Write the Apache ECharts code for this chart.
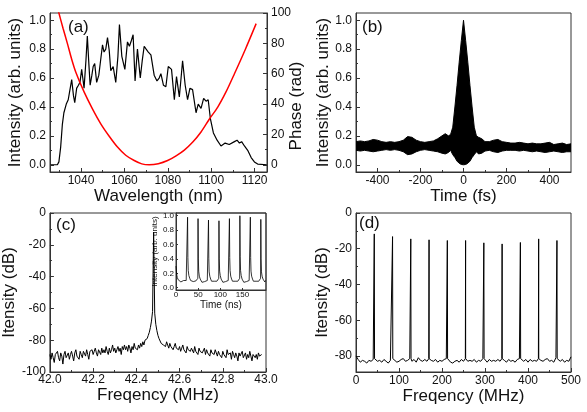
<!DOCTYPE html>
<html><head><meta charset="utf-8">
<script src="https://cdn.jsdelivr.net/npm/echarts@6/dist/echarts.min.js"></script>
<style>html,body{margin:0;padding:0;background:#fff}#c{width:587px;height:412px}</style>
</head><body><div id="c"></div>
<script>
// ---------- (a) spectrum + phase ----------
const specWl = [1026,1029.1,1029.8,1030.6,1031.4,1032.1,1033.2,1034.1,1034.9,1035.7,
1036.5,1037.1,1038.0,1038.8,1039.5,1040.3,1040.8,1041.4,1042.3,1042.9,
1043.6,1044.2,1045.0,1045.6,1046.3,1047.2,1048.2,1049.0,1049.9,1050.6,
1051.4,1052.2,1053.0,1053.7,1054.8,1056.0,1057.0,1057.7,1058.3,1058.8,
1060.2,1061.4,1062.3,1063.2,1064.0,1064.9,1066.0,1067.3,1068.2,1069.1,
1070.0,1071.0,1072.2,1073.7,1075.0,1076.0,1076.8,1078.0,1079.1,1080.2,
1081.7,1083.0,1084.0,1085.3,1086.1,1086.8,1088.0,1089.1,1090.2,1091.4,
1093.0,1094.0,1095.3,1096.5,1097.6,1098.6,1099.6,1101.0,1102.7,1104.5,
1105.3,1106.4,1108.3,1110.7,1111.9,1113.0,1114.0,1115.3,1116.8,1118.4,
1119.9,1121.4,1125.6];
const specI = [0,0,0.02,0.12,0.28,0.36,0.42,0.45,0.52,0.59,
0.48,0.43,0.53,0.55,0.57,0.66,0.6,0.53,0.73,0.89,
0.7,0.55,0.62,0.68,0.70,0.57,0.62,0.72,0.83,0.78,
0.80,0.88,0.79,0.65,0.68,0.57,0.75,0.97,0.85,0.75,
0.66,0.85,0.82,0.86,0.90,0.58,0.80,0.60,0.72,0.82,
0.80,0.78,0.76,0.62,0.58,0.60,0.63,0.55,0.54,0.68,
0.66,0.45,0.61,0.47,0.60,0.72,0.55,0.45,0.53,0.52,
0.36,0.42,0.39,0.46,0.44,0.45,0.32,0.22,0.17,0.13,
0.12,0.15,0.14,0.16,0.17,0.15,0.16,0.13,0.10,0.05,
0.02,0.005,0];
const phaseWl = [1029.0,1029.8,1031.7,1033.7,1035.6,1037.6,1041.4,1045.2,1049.1,1052.9,1056.8,1060.6,1064.5,1068.0,1071.4,1075.6,1079.9,1083.8,1087.6,1091.5,1095.3,1099.1,1103.0,1106.8,1110.7,1115.7,1120.7];
const phaseV  = [104.5,100,90,80,70,61,48,37,27,19,11.7,6.3,2.8,0.6,0,0.7,2.8,5.9,9.7,15,21.6,30,38,48,60,76,93];

// ---------- (b) autocorrelation envelopes ----------
const tB = [-500,-480,-460,-440,-420,-400,-380,-360,-340,-320,-300,-280,-260,-240,-220,-200,-180,-160,-140,-120,-100,
-85,-70,-60,-50,-40,-30,-20,-10,0,10,20,30,40,50,60,70,85,
100,120,140,160,180,200,220,240,260,280,300,320,340,360,380,400,420,440,460,480,500];
const upperB = [0.16,0.165,0.16,0.165,0.175,0.17,0.16,0.155,0.16,0.155,0.16,0.17,0.195,0.19,0.17,0.16,0.155,0.16,0.165,0.18,0.2,
0.215,0.2,0.21,0.26,0.40,0.55,0.71,0.86,1.0,0.86,0.71,0.55,0.40,0.26,0.2,0.19,0.18,
0.16,0.16,0.17,0.175,0.16,0.155,0.15,0.15,0.155,0.15,0.145,0.15,0.145,0.145,0.15,0.155,0.14,0.145,0.15,0.14,0.145];
const lowerB = [0.10,0.095,0.1,0.095,0.09,0.095,0.1,0.105,0.1,0.105,0.1,0.09,0.07,0.075,0.09,0.1,0.105,0.1,0.095,0.09,0.08,
0.075,0.085,0.1,0.07,0.05,0.025,0.01,0.002,0,0.002,0.01,0.025,0.05,0.07,0.09,0.075,0.08,
0.095,0.1,0.09,0.085,0.095,0.1,0.1,0.1,0.095,0.1,0.095,0.09,0.095,0.09,0.085,0.09,0.095,0.09,0.085,0.09,0.09];

// ---------- (c) narrow RF spectrum (42.000 .. 42.980 MHz, 0.005 MHz sampling) ----------
const cStart = 42.0, cStep = 0.005;
const cDb = [-89,-92,-88,-91,-94,-89,-90,-87,-91,-93,
-88,-90,-95,-89,-87,-91,-90,-88,-92,-89,
-87,-90,-93,-88,-86,-90,-89,-92,-87,-89,
-91,-87,-88,-90,-86,-89,-92,-87,-88,-86,
-89,-87,-85,-88,-90,-86,-87,-89,-85,-88,
-86,-88,-84,-87,-89,-85,-88,-86,-83,-87,
-85,-88,-86,-84,-87,-85,-89,-84,-86,-83,
-86,-84,-87,-83,-85,-88,-84,-86,-82,-85,
-84,-86,-83,-85,-82,-84,-81,-83,-80,-81,
-79,-77,-75,-72,-68,-62,-12,-63,-70,-74,
-77,-79,-80,-82,-81,-83,-82,-84,-81,-83,
-85,-82,-84,-83,-86,-84,-82,-85,-84,-86,
-84,-87,-85,-83,-86,-85,-88,-84,-86,-85,
-87,-85,-86,-88,-84,-87,-86,-89,-85,-87,
-86,-88,-87,-85,-89,-86,-88,-87,-90,-86,
-88,-87,-89,-86,-88,-90,-87,-89,-88,-91,
-87,-89,-88,-91,-86,-89,-90,-88,-92,-87,
-89,-91,-88,-90,-93,-88,-90,-89,-87,-91,
-90,-88,-92,-89,-91,-87,-90,-93,-89,-88,
-91,-89,-92,-88,-90,-91,-89];

// inset: pulse train (time ns, intensity)
const insetT = [0,1,2,3,5,7,9,11,13,15,17,19,21,23,24.5,25.5,
26.1,26.8,27.6,29,31,33,35,37,39,41,43,45,47,48.5,49.2,
49.7,50.4,51.2,52.6,54.6,56.6,58.6,60.6,62.6,64.6,66.6,68.6,70.6,72.2,72.8,
73.3,74,74.8,76.2,78.2,80.2,82.2,84.2,86.2,88.2,90.2,92.2,94.2,95.8,96.4,
96.9,97.6,98.4,99.8,101.8,103.8,105.8,107.8,109.8,111.8,113.8,115.8,117.8,119.4,120,
120.5,121.2,122,123.4,125.4,127.4,129.4,131.4,133.4,135.4,137.4,139.4,141.4,143,143.6,
144.1,144.8,145.6,147,149,151,153,155,157,159,161,163,165,166.6,167.2,
167.7,168.4,169.2,170.6,172.6,174.6,176.6,178.6,180.6,182.6,184.6,186.6,188.6,190.2,190.8,
191.3,192,192.8,194.2,196.2,198.2,200.2,202,203];
const insetV = [0.3,0.22,0.17,0.14,0.11,0.09,0.1,0.08,0.09,0.085,0.1,0.09,0.095,0.1,0.09,0.12,
0.98,0.42,0.24,0.17,0.13,0.1,0.08,0.1,0.085,0.09,0.1,0.095,0.09,0.1,0.13,
0.96,0.4,0.23,0.16,0.12,0.1,0.075,0.09,0.1,0.085,0.095,0.09,0.1,0.09,0.12,
0.94,0.41,0.22,0.16,0.12,0.09,0.08,0.1,0.09,0.085,0.1,0.09,0.095,0.1,0.13,
0.93,0.4,0.23,0.17,0.12,0.1,0.075,0.09,0.1,0.085,0.095,0.09,0.1,0.09,0.12,
0.96,0.42,0.24,0.16,0.12,0.09,0.08,0.1,0.09,0.085,0.1,0.09,0.095,0.1,0.13,
1.0,0.43,0.24,0.17,0.12,0.1,0.075,0.09,0.1,0.085,0.095,0.09,0.1,0.09,0.12,
0.98,0.42,0.23,0.16,0.12,0.09,0.08,0.1,0.09,0.085,0.1,0.09,0.095,0.1,0.13,
0.95,0.4,0.22,0.16,0.12,0.1,0.08,0.1,0.09];

// ---------- (d) wide RF spectrum ----------
const dStart = 0, dStep = 5;
const dBase = [-80,-82,-83.5,-82.5,-83,-84,-82.5,-83,-82,-81.5,-83,-82.5,-83.5,-82,-83,-84,-82.5,-81.5,-82,-83.5,
-83,-82,-81.5,-83,-82.5,-81.5,-83,-82,-83.5,-81,-82.5,-83,-82,-83,-81.5,-82.5,-83,-82,-83.5,-82.5,
-83,-82,-81.5,-82.5,-83.5,-84,-83,-82.5,-83.5,-82,-83,-81.5,-83,-82.5,-83,-82,-83.5,-82.5,-83,-81.5,
-82.5,-83.5,-82,-83,-82.5,-83,-82,-83,-81.5,-82.5,-83.5,-82,-83,-82.5,-83.5,-82,-81.5,-82.5,-83,-82,
-83.5,-82,-83,-82.5,-83,-81.5,-82.5,-83,-82,-81.5,-83,-82.5,-83.5,-81,-82.5,-83,-82,-83.5,-82.5,-83,-80.5];
const peakF  = [42.5,85.0,127.4,169.9,212.4,254.9,297.3,339.8,382.3,424.8,467.3];
const peakDb = [-11.7,-13.2,-14.5,-15.0,-15.4,-15.4,-16.7,-17.3,-16.5,-14.5,-15.4];
const peakFoot = -81.5;

// ---------- build ----------
const FONT = '"Liberation Sans", Arial, sans-serif';
const INK = '#111';
const LINE = '#333';

function axis(o){
  const major = !o.minor;
  return {
    type:'value', gridIndex:o.grid, min:o.min, max:o.max, position:o.pos,
    axisLine:{show:major, onZero:false, lineStyle:{color:LINE,width:1}},
    axisTick:{show:true, inside:true, length: major ? (o.tl || 4) : (o.tl || 2), customValues:o.ticks, lineStyle:{color:LINE,width:1}},
    axisLabel:{show: major && !!o.labels, customValues:o.labels, formatter:o.fmt, margin:(o.margin!=null?o.margin:3),
      fontSize:o.fs||12, fontFamily:FONT, color:INK},
    splitLine:{show:false}, minorTick:{show:false},
    name:o.name||'', nameLocation:'middle', nameGap:o.gap||20,
    nameTextStyle:{fontSize:o.nfs||17, fontFamily:FONT, color:INK}
  };
}
const f1 = v => v.toFixed(1);
const f0 = v => String(Math.round(v));

const xAxes = [
  axis({grid:0,min:1025.7,max:1125.7,pos:'bottom',ticks:[1040,1060,1080,1100,1120],labels:[1040,1060,1080,1100,1120],fmt:f0,name:'Wavelength (nm)',gap:15}),
  axis({grid:0,min:1025.7,max:1125.7,pos:'bottom',minor:true,ticks:[1030,1050,1070,1090,1110]}),
  axis({grid:1,min:-500,max:500,pos:'bottom',ticks:[-400,-200,0,200,400],labels:[-400,-200,0,200,400],fmt:f0,name:'Time (fs)',gap:15}),
  axis({grid:1,min:-500,max:500,pos:'bottom',minor:true,ticks:[-300,-100,100,300]}),
  axis({grid:2,min:42,max:43,pos:'bottom',ticks:[42,42.2,42.4,42.6,42.8,43],labels:[42,42.2,42.4,42.6,42.8,43],fmt:f1,name:'Freqency (MHz)',gap:15,margin:2}),
  axis({grid:2,min:42,max:43,pos:'bottom',minor:true,ticks:[42.1,42.3,42.5,42.7,42.9]}),
  axis({grid:3,min:0,max:500,pos:'bottom',ticks:[0,100,200,300,400,500],labels:[0,100,200,300,400,500],fmt:f0,name:'Freqency (MHz)',gap:15}),
  axis({grid:3,min:0,max:500,pos:'bottom',minor:true,ticks:[50,150,250,350,450]}),
  axis({grid:4,min:0,max:203,pos:'bottom',ticks:[0,50,100,150],labels:[0,50,100,150],fmt:f0,fs:8,margin:1,tl:2,name:'Time (ns)',nfs:10,gap:9})
];
const yAxes = [
  axis({grid:0,min:-0.05,max:1.05,pos:'left',ticks:[0,0.2,0.4,0.6,0.8,1.0],labels:[0,0.2,0.4,0.6,0.8,1.0],fmt:f1,name:'Intensity (arb. units)',gap:26,margin:4}),
  axis({grid:0,min:-0.05,max:1.05,pos:'left',minor:true,ticks:[0.1,0.3,0.5,0.7,0.9]}),
  axis({grid:0,min:-4.76,max:100,pos:'right',ticks:[0,20,40,60,80,100],labels:[0,20,40,60,80,100],fmt:f0,margin:4}),
  axis({grid:0,min:-4.76,max:100,pos:'right',minor:true,ticks:[10,30,50,70,90]}),
  axis({grid:1,min:-0.05,max:1.05,pos:'left',ticks:[0,0.2,0.4,0.6,0.8,1.0],labels:[0,0.2,0.4,0.6,0.8,1.0],fmt:f1,name:'Intensity (arb. units)',gap:20,margin:4}),
  axis({grid:1,min:-0.05,max:1.05,pos:'left',minor:true,ticks:[0.1,0.3,0.5,0.7,0.9]}),
  axis({grid:2,min:-100,max:0,pos:'left',ticks:[-100,-80,-60,-40,-20,0],labels:[-100,-80,-60,-40,-20,0],fmt:f0,name:'Itensity (dB)',gap:26,margin:4}),
  axis({grid:2,min:-100,max:0,pos:'left',minor:true,ticks:[-90,-70,-50,-30,-10]}),
  axis({grid:3,min:-89,max:0,pos:'left',ticks:[-80,-60,-40,-20,0],labels:[-80,-60,-40,-20,0],fmt:f0,name:'Itensity (dB)',gap:23,margin:4}),
  axis({grid:3,min:-89,max:0,pos:'left',minor:true,ticks:[-70,-50,-30,-10]}),
  axis({grid:4,min:-0.032,max:1.038,pos:'left',ticks:[0,0.2,0.4,0.6,0.8,1.0],labels:[0,0.2,0.4,0.6,0.8,1.0],fmt:f1,fs:8,margin:2,tl:2,name:'Intensity (arb. units)',nfs:8,gap:15})
];

const specData = specWl.map((w,i)=>[w,specI[i]]);
const phaseData = phaseWl.map((w,i)=>[w,phaseV[i]]);
const cData = cDb.map((v,i)=>[+(cStart+i*cStep).toFixed(4), v]);
const insetData = insetT.map((t,i)=>[t,insetV[i]]);
let dData = dBase.map((v,i)=>[dStart+i*dStep, v]);
peakF.forEach((f,i)=>{ dData.push([f-0.6,peakFoot],[f,peakDb[i]],[f+0.6,peakFoot]); });
dData.sort((a,b)=>a[0]-b[0]);

const lineS = (xi,yi,data,color,w,extra)=>Object.assign({type:'line',xAxisIndex:xi,yAxisIndex:yi,data,symbol:'none',
  lineStyle:{color,width:w},itemStyle:{color},silent:true,animation:false,clip:true},extra||{});

// band between envelopes drawn through the axis scales
const bandSeries = {
  type:'custom', xAxisIndex:2, yAxisIndex:4, silent:true, animation:false, clip:true,
  data:[[0,0.5]],
  renderItem:(params, api)=>{
    const pts = [];
    for (let i=0;i<tB.length;i++) pts.push(api.coord([tB[i], upperB[i]]));
    for (let i=tB.length-1;i>=0;i--) pts.push(api.coord([tB[i], lowerB[i]]));
    return {type:'polygon', shape:{points:pts}, style:{fill:'#000', stroke:'#000', lineWidth:1}};
  }
};

const gridStyle = {show:true,borderColor:LINE,borderWidth:1,backgroundColor:'transparent',containLabel:false};
const option = {
  backgroundColor:'#fff',
  animation:false,
  grid:[
    Object.assign({left:50,top:13,width:217,height:159},gridStyle),
    Object.assign({left:356,top:13,width:215,height:159},gridStyle),
    Object.assign({left:49,top:213,width:217,height:159},gridStyle),
    Object.assign({left:356,top:213,width:215,height:159},gridStyle),
    Object.assign({left:176,top:213,width:90,height:77},gridStyle)
  ],
  xAxis:xAxes, yAxis:yAxes,
  series:[
    lineS(0,0,specData,'#000',1.2),
    lineS(0,2,phaseData,'#ff0000',1.5,{smooth:0.3}),
    bandSeries,
    lineS(4,6,cData,'#000',1),
    lineS(8,10,insetData,'#000',0.8),
    lineS(6,8,dData,'#000',1)
  ],
  graphic:[
    {type:'text',x:68,y:27,style:{text:'(a)',font:'17px "Liberation Sans", Arial',fill:INK,textVerticalAlign:'middle'}},
    {type:'text',x:362,y:27,style:{text:'(b)',font:'17px "Liberation Sans", Arial',fill:INK,textVerticalAlign:'middle'}},
    {type:'text',x:56,y:225,style:{text:'(c)',font:'17px "Liberation Sans", Arial',fill:INK,textVerticalAlign:'middle'}},
    {type:'text',x:359,y:223,style:{text:'(d)',font:'17px "Liberation Sans", Arial',fill:INK,textVerticalAlign:'middle'}},
    {type:'text',x:296,y:106,rotation:Math.PI/2,style:{text:'Phase (rad)',font:'17px "Liberation Sans", Arial',fill:INK,textAlign:'center',textVerticalAlign:'middle'}}
  ]
};
const chart = echarts.init(document.getElementById('c'),null,{renderer:'canvas'});
chart.setOption(option);
</script></body></html>
